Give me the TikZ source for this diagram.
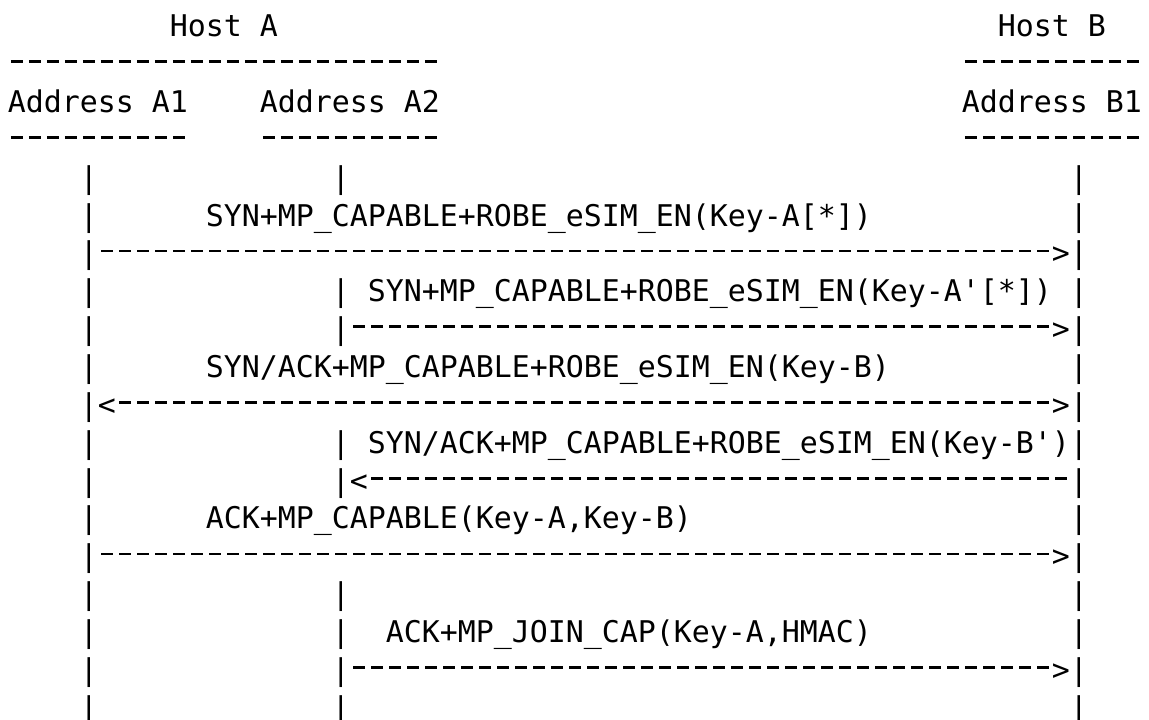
\documentclass[tikz,border=0pt]{standalone}
\usepackage{fontspec}
\setmonofont{DejaVu Sans Mono}

% one dash of the ascii art, one character cell wide
\newcommand\dashes[1]{\foreach \i in {1,...,#1}{\hspace*{1.5pt}\rule[5.75pt]{6pt}{1.3pt}\hspace*{1.5pt}}}

\tikzset{
  ascii/.style={font=\ttfamily\fontsize{14.95pt}{18pt}\selectfont, inner sep=0pt, anchor=base west},
  msg/.style={line width=1.3pt, dash pattern=on 6pt off 3pt, dash phase=7.5pt},
}

\begin{document}
\begin{tikzpicture}[x=9pt, y=-18.93pt]
    \useasboundingbox (0pt,0pt) rectangle (574.5pt,-359.5pt);
    \begin{scope}[shift={(3.75pt,0.58pt)}]
    % Hosts
    \node[ascii] (hosta) at (9,1) {Host A};
    \node[ascii] (hostb) at (55,1) {Host B};
    \node[ascii] (hostaline) at (0,2) {\dashes{24}};
    \node[ascii] (hostbline) at (53,2) {\dashes{10}};

    % Addresses
    \node[ascii] (addra1) at (0,3) {Address A1};
    \node[ascii] (addra2) at (14,3) {Address A2};
    \node[ascii] (addrb1) at (53,3) {Address B1};
    \node[ascii] (a1line) at (0,4) {\dashes{10}};
    \node[ascii] (a2line) at (14,4) {\dashes{10}};
    \node[ascii] (b1line) at (53,4) {\dashes{10}};

    % Lifelines
    \foreach \r in {5,...,19} {
        \node[ascii] (a1-\r) at (4,\r) {|};
        \node[ascii] (b1-\r) at (59,\r) {|};
    }
    \foreach \r in {5,8,9,12,13,16,17,18,19}
        \node[ascii] (a2-\r) at (18,\r) {|};

    % Messages
    \node[ascii] (m1) at (11,6) {SYN+MP\_CAPABLE+ROBE\_eSIM\_EN(Key-A[*])};
    \node[ascii] (m2) at (20,8) {SYN+MP\_CAPABLE+ROBE\_eSIM\_EN(Key-A'[*])};
    \node[ascii] (m3) at (11,10) {SYN/ACK+MP\_CAPABLE+ROBE\_eSIM\_EN(Key-B)};
    \node[ascii] (m4) at (20,12) {SYN/ACK+MP\_CAPABLE+ROBE\_eSIM\_EN(Key-B')};
    \node[ascii] (m5) at (11,14) {ACK+MP\_CAPABLE(Key-A,Key-B)};
    \node[ascii] (m6) at (21,17) {ACK+MP\_JOIN\_CAP(Key-A,HMAC)};

    % Arrow heads
    \node[ascii] (tip7) at (58,7) {>};
    \node[ascii] (tip9) at (58,9) {>};
    \node[ascii] (back11) at (5,11) {<};
    \node[ascii] (tip11) at (58,11) {>};
    \node[ascii] (back13) at (19,13) {<};
    \node[ascii] (tip15) at (58,15) {>};
    \node[ascii] (tip18) at (58,18) {>};

    % Arrows
    \draw[msg] ([yshift=6.4pt]a1-7.base east) -- ([yshift=6.4pt]tip7.base west);
    \draw[msg] ([yshift=6.4pt]a2-9.base east) -- ([yshift=6.4pt]tip9.base west);
    \draw[msg] ([yshift=6.4pt]back11.base east) -- ([yshift=6.4pt]tip11.base west);
    \draw[msg] ([yshift=6.4pt]back13.base east) -- ([yshift=6.4pt]b1-13.base west);
    \draw[msg] ([yshift=6.4pt]a1-15.base east) -- ([yshift=6.4pt]tip15.base west);
    \draw[msg] ([yshift=6.4pt]a2-18.base east) -- ([yshift=6.4pt]tip18.base west);
    \end{scope}
\end{tikzpicture}
\end{document}
